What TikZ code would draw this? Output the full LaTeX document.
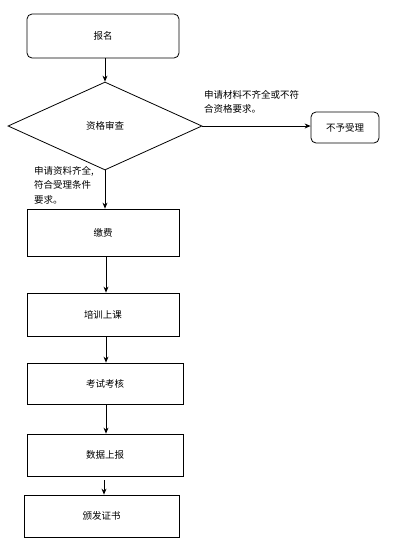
\documentclass[tikz,border=0pt]{standalone}
\usepackage{fontspec}
\newfontfamily\cjk{Noto Sans CJK SC}
\usetikzlibrary{arrows.meta,positioning,shapes.geometric}

\begin{document}
\begin{tikzpicture}[x=1pt, y=-1pt, >={Stealth[length=6pt,width=5pt]},
    every node/.style={font=\cjk\fontsize{9.5}{14.5}\selectfont},
    stagebox/.style={draw, line width=0.8pt, inner sep=0pt},
    roundbox/.style={stagebox, rounded corners=5pt},
    flow/.style={->, line width=0.8pt}]
    \useasboundingbox (0,0) rectangle (415,542);
    % --- main column ---
    \node[roundbox, minimum width=152pt, minimum height=44pt] (signup) at (103,36) {报名};
    \node[stagebox, diamond, aspect=2.2, minimum width=194pt, minimum height=88pt] (review) at (105,126) {资格审查};
    \node[stagebox, minimum width=152pt, minimum height=47pt] (fee) at (103,232.5) {缴费};
    \node[stagebox, minimum width=152pt, minimum height=43pt] (train) at (103,314.5) {培训上课};
    \node[stagebox, minimum width=156pt, minimum height=41pt] (exam) at (105,383.5) {考试考核};
    \node[stagebox, minimum width=156pt, minimum height=42pt] (report) at (105,455) {数据上报};
    \node[stagebox, minimum width=155pt, minimum height=42pt] (cert) at (101.5,516) {颁发证书};
    % --- rejected branch ---
    \node[roundbox, minimum width=68pt, minimum height=31pt] (reject) at (345,127.5) {不予受理};
    % branch labels
    \node[anchor=north west, align=left, inner sep=0pt] (nolabel) at (204,90)
      {申请材料不齐全或不符\\合资格要求。};
    \node[anchor=north west, align=left, inner sep=0pt] (oklabel) at (34,166)
      {申请资料齐全,\\符合受理条件\\要求。};
    % connectors
    \draw[flow] (signup.south -| review.north) -- (review.north);
    \draw[flow] (review.south) -- (review.south |- fee.north);
    \draw[flow] (review.east) -- (reject.west |- review.east);
    \draw[flow] ([xshift=3pt]fee.south) -- ([xshift=3pt]train.north);
    \draw[flow] ([xshift=3pt]train.south) -- ([xshift=1pt]exam.north);
    \draw[flow] ([xshift=1pt]exam.south) -- ([xshift=1pt]report.north);
    \draw[flow] ([xshift=-1pt,yshift=-4pt]report.south) -- ([xshift=2.5pt]cert.north);
\end{tikzpicture}
\end{document}
